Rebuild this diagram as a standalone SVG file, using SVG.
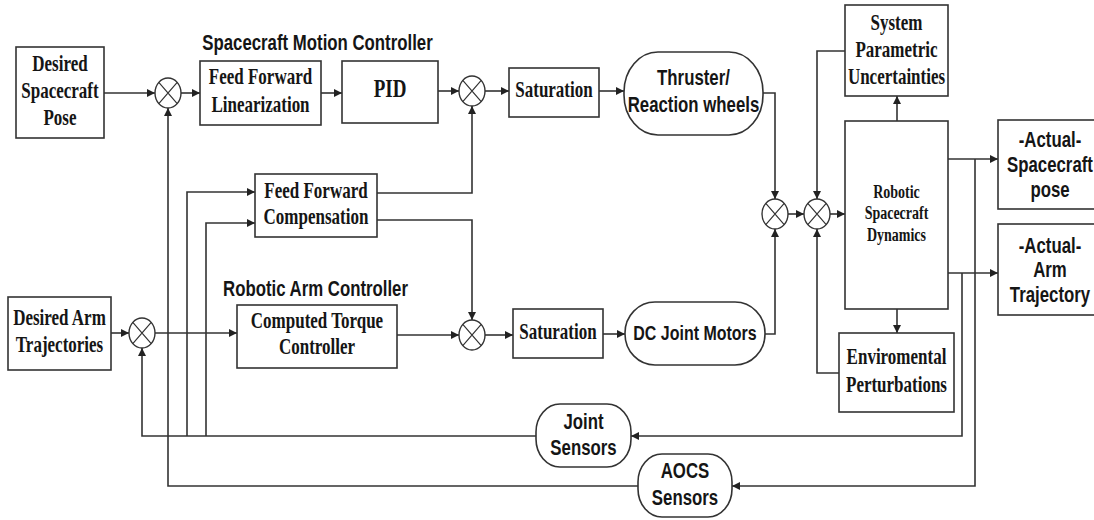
<svg xmlns="http://www.w3.org/2000/svg" width="1094" height="520" viewBox="0 0 1094 520">
<style>
.box{fill:#fff;stroke:#333;stroke-width:1.6}
.jn{fill:#fff;stroke:#333;stroke-width:1.4}
.jx{stroke:#333;stroke-width:1.2}
.ln{fill:none;stroke:#333;stroke-width:1.6}
.sr{font-family:"Liberation Serif","Times New Roman",serif;font-weight:bold;font-size:17px;fill:#151515;text-anchor:middle}
.ss{font-family:"Liberation Sans",Arial,sans-serif;font-weight:bold;font-size:16.8px;fill:#151515;text-anchor:middle}
</style>
<defs>
<marker id="ar" viewBox="0 0 10 10" markerUnits="userSpaceOnUse" markerWidth="10" markerHeight="8" refX="10" refY="5" orient="auto">
<path d="M0,0 L10,5 L0,10 z" fill="#222"/>
</marker>
</defs>
<rect width="1094" height="520" fill="#fff"/>

<g id="connectors">
<path class="ln" d="M104,93 H155" marker-end="url(#ar)"/>
<path class="ln" d="M181,93 H200" marker-end="url(#ar)"/>
<path class="ln" d="M321,93 H342" marker-end="url(#ar)"/>
<path class="ln" d="M438,91 H459" marker-end="url(#ar)"/>
<path class="ln" d="M485,91 H509" marker-end="url(#ar)"/>
<path class="ln" d="M599,91 H624" marker-end="url(#ar)"/>
<path class="ln" d="M763,93 H775 V199" marker-end="url(#ar)"/>
<path class="ln" d="M377,193 H472 V106" marker-end="url(#ar)"/>
<path class="ln" d="M377,220 H472 V320" marker-end="url(#ar)"/>
<path class="ln" d="M111,333 H129" marker-end="url(#ar)"/>
<path class="ln" d="M155,333 H237" marker-end="url(#ar)"/>
<path class="ln" d="M397,335 H459" marker-end="url(#ar)"/>
<path class="ln" d="M485,335 H513" marker-end="url(#ar)"/>
<path class="ln" d="M603,334 H625" marker-end="url(#ar)"/>
<path class="ln" d="M765,334 H775 V229" marker-end="url(#ar)"/>
<path class="ln" d="M788,214 H804" marker-end="url(#ar)"/>
<path class="ln" d="M830,214 H845" marker-end="url(#ar)"/>
<path class="ln" d="M845,51 H817 V199" marker-end="url(#ar)"/>
<path class="ln" d="M897,121 V96" marker-end="url(#ar)"/>
<path class="ln" d="M897,309 V333" marker-end="url(#ar)"/>
<path class="ln" d="M839,373 H817 V229" marker-end="url(#ar)"/>
<path class="ln" d="M948,159 H998" marker-end="url(#ar)"/>
<path class="ln" d="M948,273 H998" marker-end="url(#ar)"/>
<path class="ln" d="M975,159 V486 H732" marker-end="url(#ar)"/>
<path class="ln" d="M962,273 V436 H631" marker-end="url(#ar)"/>
<path class="ln" d="M536,436 H142 V348" marker-end="url(#ar)"/>
<path class="ln" d="M187,436 V192 H255" marker-end="url(#ar)"/>
<path class="ln" d="M206,436 V223 H255" marker-end="url(#ar)"/>
<path class="ln" d="M638,486 H168 V108" marker-end="url(#ar)"/>
</g>

<g id="title-spacecraft">
<text class="ss" transform="scale(1,1.3)" x="317.5" y="38.46">Spacecraft Motion Controller</text>
</g>
<g id="title-arm">
<text class="ss" transform="scale(1,1.3)" x="315.5" y="228.08">Robotic Arm Controller</text>
</g>

<g id="desired-pose">
<rect class="box" x="16" y="47" width="88" height="91"/>
<text class="sr" transform="scale(1,1.3)"><tspan x="60" y="54.62">Desired</tspan><tspan x="60" y="75.38">Spacecraft</tspan><tspan x="60" y="96.15">Pose</tspan></text>
</g>

<g id="sum1">
<ellipse class="jn" cx="168" cy="93" rx="13" ry="15"/>
<path class="jx" d="M158.8,82.4 L177.2,103.6 M177.2,82.4 L158.8,103.6"/>
</g>

<g id="ff-linearization">
<rect class="box" x="200" y="61" width="121" height="64"/>
<text class="sr" transform="scale(1,1.3)"><tspan x="260.5" y="64.62">Feed Forward</tspan><tspan x="260.5" y="86.15">Linearization</tspan></text>
</g>

<g id="pid">
<rect class="box" x="342" y="61" width="96" height="62"/>
<text class="sr" transform="scale(1,1.3)" x="390" y="74.62" style="font-size:19px">PID</text>
</g>

<g id="sum3">
<ellipse class="jn" cx="472" cy="91" rx="13" ry="15"/>
<path class="jx" d="M462.8,80.4 L481.2,101.6 M481.2,80.4 L462.8,101.6"/>
</g>

<g id="saturation1">
<rect class="box" x="509" y="68" width="90" height="49"/>
<text class="sr" transform="scale(1,1.3)" x="554" y="74.62">Saturation</text>
</g>

<g id="thruster">
<rect class="box" x="624" y="52" width="139" height="83" rx="34" ry="40"/>
<text class="ss" transform="scale(1,1.3)"><tspan x="693.5" y="65.69">Thruster/</tspan><tspan x="693.5" y="86.15">Reaction wheels</tspan></text>
</g>

<g id="ff-compensation">
<rect class="box" x="255" y="174" width="122" height="63"/>
<text class="sr" transform="scale(1,1.3)"><tspan x="316" y="152.31">Feed Forward</tspan><tspan x="316" y="172.31">Compensation</tspan></text>
</g>

<g id="desired-arm">
<rect class="box" x="8" y="297" width="103" height="73"/>
<text class="sr" transform="scale(1,1.3)"><tspan x="59.5" y="250">Desired Arm</tspan><tspan x="59.5" y="270.77">Trajectories</tspan></text>
</g>

<g id="sum2">
<ellipse class="jn" cx="142" cy="333" rx="13" ry="15"/>
<path class="jx" d="M132.8,322.4 L151.2,343.6 M151.2,322.4 L132.8,343.6"/>
</g>

<g id="computed-torque">
<rect class="box" x="237" y="305" width="160" height="63"/>
<text class="sr" transform="scale(1,1.3)"><tspan x="317" y="252.31">Computed Torque</tspan><tspan x="317" y="272.31">Controller</tspan></text>
</g>

<g id="sum6">
<ellipse class="jn" cx="472" cy="335" rx="13" ry="15"/>
<path class="jx" d="M462.8,324.4 L481.2,345.6 M481.2,324.4 L462.8,345.6"/>
</g>

<g id="saturation2">
<rect class="box" x="513" y="309" width="90" height="49"/>
<text class="sr" transform="scale(1,1.3)" x="558" y="260.77">Saturation</text>
</g>

<g id="dc-motors">
<rect class="box" x="625" y="302" width="140" height="63" rx="30" ry="31"/>
<text class="ss" transform="scale(1,1.3)" x="695" y="261.54" style="font-size:16px">DC Joint Motors</text>
</g>

<g id="sum4">
<ellipse class="jn" cx="775" cy="214" rx="13" ry="15"/>
<path class="jx" d="M765.8,203.4 L784.2,224.6 M784.2,203.4 L765.8,224.6"/>
</g>

<g id="sum5">
<ellipse class="jn" cx="817" cy="214" rx="13" ry="15"/>
<path class="jx" d="M807.8,203.4 L826.2,224.6 M826.2,203.4 L807.8,224.6"/>
</g>

<g id="uncertainties">
<rect class="box" x="845" y="5" width="103" height="91"/>
<text class="sr" transform="scale(1,1.3)"><tspan x="896.5" y="23.08">System</tspan><tspan x="896.5" y="43.85">Parametric</tspan><tspan x="896.5" y="64.62">Uncertainties</tspan></text>
</g>

<g id="dynamics">
<rect class="box" x="845" y="121" width="103" height="188"/>
<text class="sr" transform="scale(1,1.3)" style="font-size:14px"><tspan x="896.5" y="152.31">Robotic</tspan><tspan x="896.5" y="168.46">Spacecraft</tspan><tspan x="896.5" y="185.38">Dynamics</tspan></text>
</g>

<g id="perturbations">
<rect class="box" x="839" y="333" width="115" height="79"/>
<text class="sr" transform="scale(1,1.3)"><tspan x="896.5" y="280">Enviromental</tspan><tspan x="896.5" y="301.54">Perturbations</tspan></text>
</g>

<g id="actual-pose">
<rect class="box" x="998" y="120" width="110" height="89"/>
<text class="ss" transform="scale(1,1.3)"><tspan x="1050" y="113.08">-Actual-</tspan><tspan x="1050" y="132.31">Spacecraft</tspan><tspan x="1050" y="151.54">pose</tspan></text>
</g>

<g id="actual-arm">
<rect class="box" x="998" y="224" width="110" height="91"/>
<text class="ss" transform="scale(1,1.3)"><tspan x="1050" y="194.62">-Actual-</tspan><tspan x="1050" y="213.46">Arm</tspan><tspan x="1050" y="232.31">Trajectory</tspan></text>
</g>

<g id="joint-sensors">
<rect class="box" x="536" y="404" width="95" height="63" rx="24" ry="28"/>
<text class="ss" transform="scale(1,1.3)"><tspan x="583.5" y="330.38">Joint</tspan><tspan x="583.5" y="350.38">Sensors</tspan></text>
</g>

<g id="aocs-sensors">
<rect class="box" x="638" y="454" width="94" height="63" rx="24" ry="28"/>
<text class="ss" transform="scale(1,1.3)"><tspan x="685" y="367.69">AOCS</tspan><tspan x="685" y="388.46">Sensors</tspan></text>
</g>
</svg>
